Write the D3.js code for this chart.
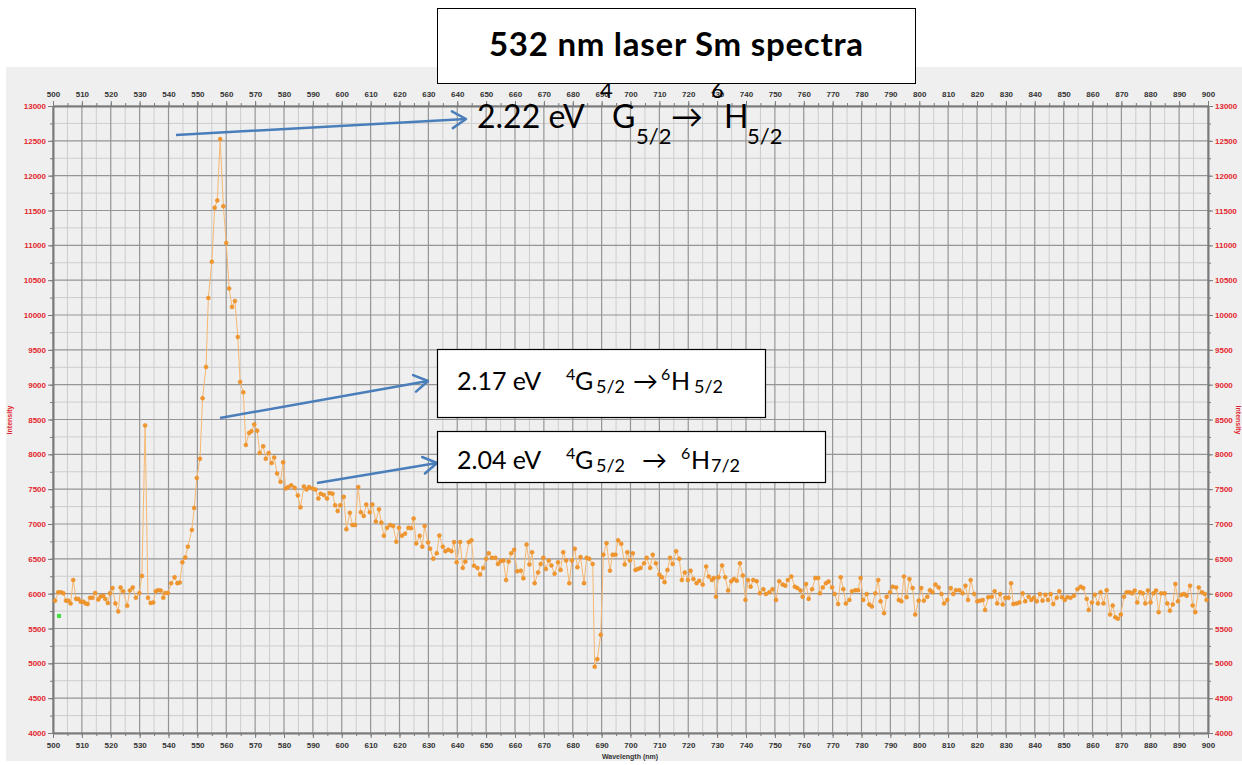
<!DOCTYPE html>
<html>
<head>
<meta charset="utf-8">
<script src="https://cdn.jsdelivr.net/npm/d3@7"></script>
<style>
  html, body { margin: 0; padding: 0; background: #ffffff; }
  svg { display: block; }
</style>
</head>
<body>
<svg id="chart" width="1242" height="765"></svg>
<script>
// Sm spectrum under 532 nm laser
let wavelength = [
  500.7,501.8,502.8,503.6,504.5,505.3,506.1,507.0,508.0,508.8,509.6,510.5,511.3,512.0,512.8,513.7,514.6,515.7,516.5,517.4,
  518.1,519.0,519.7,520.6,521.6,522.6,523.4,524.3,525.7,526.6,527.6,528.7,529.9,530.8,531.9,532.9,533.8,534.7,535.6,536.4,
  537.3,538.2,538.8,539.8,540.9,542.1,543.1,543.9,544.8,545.8,546.7,548.1,548.9,549.8,550.9,551.8,
  553.0,553.8,555.0,556.0,556.9,557.9,559.0,560.0,561.0,562.0,563.0,564.0,564.8,565.9,
  566.8,567.9,568.7,569.7,570.7,571.6,572.8,573.7,574.7,575.7,576.6,577.6,578.8,579.7,580.6,581.5,582.5,583.7,584.8,585.7,
  586.9,587.8,588.7,589.9,590.9,591.9,592.7,593.8,594.9,595.8,596.8,597.7,598.6,599.5,600.7,601.6,602.8,603.7,604.6,605.7,
  606.6,607.6,608.5,609.7,610.6,611.8,612.9,613.7,614.6,615.7,616.8,617.8,618.9,619.8,620.8,621.9,623.1,624.0,624.9,625.8,
  627.0,627.9,628.7,629.9,
  630.6,631.7,632.9,633.8,635.0,635.9,636.9,638.0,638.9,639.8,641.0,641.9,642.8,644.0,644.9,645.8,647.0,647.9,649.0,650.0,
  650.9,652.0,653.2,654.1,655.0,656.0,656.9,657.8,658.7,659.7,660.8,662.0,662.9,664.0,665.0,665.9,666.8,668.0,668.9,669.8,
  670.7,671.7,672.6,673.7,674.9,675.8,676.7,677.7,678.8,679.7,680.7,681.6,682.7,683.9,684.8,685.7,686.9,687.6,688.5,689.7,
  690.6,691.7,692.9,693.8,694.8,695.7,696.8,698.0,698.9,699.8,700.8,701.7,702.6,703.5,704.7,705.6,706.8,707.7,708.8,710.0,
  710.9,711.8,712.8,713.7,714.6,715.8,716.9,717.8,718.8,719.9,720.8,721.8,722.9,723.8,725.0,726.2,727.1,728.2,728.9,729.6,
  730.5,731.7,732.8,733.8,734.9,735.8,736.8,737.9,738.9,739.8,740.7,741.6,742.5,743.7,744.8,746.0,746.9,748.1,749.2,750.4,
  751.5,752.7,753.6,754.5,755.7,756.9,757.8,758.9,759.6,760.8,761.7,762.9,764.0,765.0,
  765.6,766.6,767.7,768.6,769.8,770.7,771.9,772.8,773.7,774.6,775.8,776.7,777.9,778.8,779.7,780.6,781.8,782.7,783.6,784.8,
  785.8,786.6,787.8,788.7,789.9,790.8,792.0,792.9,793.8,794.7,795.6,796.6,797.7,798.6,799.8,800.7,801.6,802.8,803.7,804.6,
  805.6,806.7,807.7,808.6,809.7,810.9,811.8,812.7,813.9,815.0,816.0,816.9,817.8,819.0,820.1,821.0,822.0,822.8,823.9,825.1,
  826.1,827.0,828.0,828.9,829.8,830.9,831.8,832.6,833.7,834.7,835.8,836.7,837.9,838.8,839.7,840.7,841.8,842.7,843.7,844.6,
  845.5,846.4,847.6,848.5,849.4,850.4,851.3,852.4,853.6,854.8,855.9,856.8,858.0,858.7,859.8,860.8,861.9,862.8,863.8,864.9,
  866.1,867.0,867.9,868.8,869.8,870.9,871.8,872.8,873.7,874.6,875.5,876.5,877.4,878.3,879.2,880.1,881.1,882.0,882.9,883.8,
  885.0,885.9,886.8,887.8,888.7,889.6,890.8,891.7,892.6,893.8,894.7,895.6,896.8,897.9,898.9,899.5
];

let intensity = [
  5900,6020,6020,6005,5900,5900,5860,6195,5925,5925,5885,5885,5860,5850,5940,5940,6010,5915,5960,5970,
  5925,5865,6005,6080,5860,5745,6090,6035,5825,6045,6090,5940,6010,6255,8415,5940,5865,5875,6035,6050,
  6045,5940,6010,6010,6150,6235,6150,6160,6450,6520,6675,6915,7230,7660,7935,8805,
  9255,10245,10765,11540,11645,12525,11560,11035,10380,10115,10200,9685,9040,8890,
  8135,8305,8330,8430,8340,8020,8115,7935,8020,7875,7955,7725,7605,7885,7510,7530,7555,7520,7410,7240,
  7540,7495,7530,7510,7495,7365,7435,7415,7365,7445,7435,7270,7185,7270,7390,6925,7160,6985,6985,7530,
  7170,7115,7280,7170,7280,7035,7210,7020,6830,6945,6985,6970,6745,6945,6830,6860,6945,6940,7080,6720,
  6830,6675,6970,6735,
  6645,6500,6580,6835,6675,6610,6630,6610,6740,6450,6740,6370,6460,6740,6765,6400,6370,6275,6370,6500,
  6580,6515,6515,6425,6465,6475,6195,6460,6580,6630,6320,6330,6220,6705,6420,6595,6150,6305,6425,6515,
  6355,6475,6405,6285,6450,6340,6595,6475,6150,6475,6645,6380,6525,6150,6515,6500,6425,4950,5060,5410,
  6560,6725,6330,6560,6560,6765,6715,6420,6595,6475,6580,6340,6355,6370,6435,6515,6370,6560,6435,6275,
  6235,6165,6340,6515,6425,6610,6500,6195,6305,6195,6330,6210,6150,6185,6130,6390,6245,6195,6225,5955,
  6235,6405,6235,6045,6180,6210,6185,6435,6260,5910,6195,6100,6195,6180,6005,6065,5995,6020,6065,5910,
  6180,6130,6115,6195,6245,6100,6080,6045,5955,6140,5925,6065,6225,6225,
  6005,6090,6150,6175,6090,5995,5850,6235,6065,5860,5910,6035,6050,6050,6225,5910,5995,5845,5815,6005,
  6195,5890,5720,5955,6020,6100,6090,5910,5890,6245,5950,6210,6080,5700,5900,6080,5900,5955,6050,6020,
  6130,6090,5995,5860,5910,6080,5995,6050,6050,6005,6115,5910,6195,5995,5890,5900,5910,5765,5950,5955,
  6035,5860,5995,5845,5940,5940,6150,5850,5860,5875,6005,5890,5955,5910,5940,5890,5995,5900,5985,5910,
  5995,5850,5940,6035,5950,5910,5950,5940,5970,6065,6100,6080,5925,5765,5875,5985,5860,6020,5860,6050,
  5700,5830,5660,5640,5700,5955,6020,6020,6005,6045,5875,6020,6005,5860,6045,5875,6005,6045,5735,6005,
  6005,5860,5755,5845,6140,5890,5985,5995,5970,6115,5830,5735,6090,6020,5995,5910
];

// stray green marker near the start
let markerPoint = [502.1, 5680];

let xDomain = [500, 900];
let yDomain = [4000, 13000];

let title = "532 nm laser Sm spectra";
let xTitle = "Wavelength (nm)";
let yTitle = "Intensity";

let svg = d3.select("#chart");

// grey instrument panel behind the plot
svg.append("rect")
    .attr("x", 6).attr("y", 67)
    .attr("width", 1236).attr("height", 694)
    .attr("fill", "#efefef");

let x = d3.scaleLinear().domain(xDomain).range([53, 1208]);
let y = d3.scaleLinear().domain(yDomain).range([733, 106]);

let xMinor = d3.range(xDomain[0], xDomain[1] + 1, 5);
let xMajor = d3.range(xDomain[0], xDomain[1] + 1, 10);
let yMinor = d3.range(yDomain[0], yDomain[1] + 1, 250);
let yMajor = d3.range(yDomain[0], yDomain[1] + 1, 500);

let grid = svg.append("g");

grid.selectAll(".vminor")
    .data(xMinor.filter(function (d) { return d % 10 !== 0; }))
    .enter().append("line")
    .attr("x1", function (d) { return x(d); })
    .attr("x2", function (d) { return x(d); })
    .attr("y1", y.range()[1]).attr("y2", y.range()[0])
    .attr("stroke", "#cdcdcd").attr("stroke-width", 1);

grid.selectAll(".hminor")
    .data(yMinor.filter(function (d) { return d % 500 !== 0; }))
    .enter().append("line")
    .attr("y1", function (d) { return y(d); })
    .attr("y2", function (d) { return y(d); })
    .attr("x1", x.range()[0]).attr("x2", x.range()[1])
    .attr("stroke", "#cdcdcd").attr("stroke-width", 1);

grid.selectAll(".vmajor")
    .data(xMajor)
    .enter().append("line")
    .attr("x1", function (d) { return x(d); })
    .attr("x2", function (d) { return x(d); })
    .attr("y1", y.range()[1]).attr("y2", y.range()[0])
    .attr("stroke", "#959595").attr("stroke-width", 1.2);

grid.selectAll(".hmajor")
    .data(yMajor)
    .enter().append("line")
    .attr("y1", function (d) { return y(d); })
    .attr("y2", function (d) { return y(d); })
    .attr("x1", x.range()[0]).attr("x2", x.range()[1])
    .attr("stroke", "#959595").attr("stroke-width", 1.2);

// axes with labels, plus minor tick marks
let styleAxis = function (g, color) {
    g.select(".domain").attr("stroke", "#7a7a7a").attr("stroke-width", 2);
    g.selectAll(".tick line").attr("stroke", "#7a7a7a");
    g.selectAll(".tick text")
        .attr("fill", color)
        .style("font-family", "'Liberation Sans', Arial, sans-serif")
        .style("font-size", "8px")
        .style("font-weight", "bold");
};

let makeMinor = function (axis, vals, transform) {
    svg.append("g").attr("transform", transform)
        .call(axis.tickValues(vals).tickSize(3).tickFormat(""))
        .call(function (g) {
            g.select(".domain").remove();
            g.selectAll(".tick line").attr("stroke", "#7a7a7a");
        });
};

makeMinor(d3.axisTop(x), xMinor, "translate(0," + y.range()[1] + ")");
makeMinor(d3.axisBottom(x), xMinor, "translate(0," + y.range()[0] + ")");
makeMinor(d3.axisLeft(y), yMinor, "translate(" + x.range()[0] + ",0)");
makeMinor(d3.axisRight(y), yMinor, "translate(" + x.range()[1] + ",0)");

let plain = d3.format("d");

svg.append("g")
    .attr("transform", "translate(0," + y.range()[1] + ")")
    .call(d3.axisTop(x).tickValues(xMajor).tickFormat(plain).tickSize(5).tickPadding(4).tickSizeOuter(0))
    .call(styleAxis, "#333333");

svg.append("g")
    .attr("transform", "translate(0," + y.range()[0] + ")")
    .call(d3.axisBottom(x).tickValues(xMajor).tickFormat(plain).tickSize(5).tickPadding(4).tickSizeOuter(0))
    .call(styleAxis, "#333333");

svg.append("g")
    .attr("transform", "translate(" + x.range()[0] + ",0)")
    .call(d3.axisLeft(y).tickValues(yMajor).tickFormat(plain).tickSize(5).tickPadding(2).tickSizeOuter(0))
    .call(styleAxis, "#e3262e");

svg.append("g")
    .attr("transform", "translate(" + x.range()[1] + ",0)")
    .call(d3.axisRight(y).tickValues(yMajor).tickFormat(plain).tickSize(5).tickPadding(2).tickSizeOuter(0))
    .call(styleAxis, "#e3262e");

// axis titles
svg.append("text")
    .attr("x", 630).attr("y", 759)
    .attr("text-anchor", "middle")
    .style("font-family", "'Liberation Sans', Arial, sans-serif")
    .style("font-size", "7px").style("font-weight", "bold")
    .attr("fill", "#333333")
    .text(xTitle);

svg.append("text")
    .attr("transform", "translate(12,420) rotate(-90)")
    .attr("text-anchor", "middle")
    .style("font-family", "'Liberation Sans', Arial, sans-serif")
    .style("font-size", "7px").style("font-weight", "bold")
    .attr("fill", "#e3262e")
    .text(yTitle);

svg.append("text")
    .attr("transform", "translate(1236,420) rotate(90)")
    .attr("text-anchor", "middle")
    .style("font-family", "'Liberation Sans', Arial, sans-serif")
    .style("font-size", "7px").style("font-weight", "bold")
    .attr("fill", "#e3262e")
    .text(yTitle);

// spectrum line and points
let data = wavelength.map(function (w, i) { return [w, intensity[i]]; });

let line = d3.line()
    .x(function (d) { return x(d[0]); })
    .y(function (d) { return y(d[1]); });

svg.append("path")
    .datum(data)
    .attr("d", line)
    .attr("fill", "none")
    .attr("stroke", "#f6b873")
    .attr("stroke-width", 1);

svg.append("g")
    .selectAll("circle")
    .data(data)
    .enter().append("circle")
    .attr("cx", function (d) { return x(d[0]); })
    .attr("cy", function (d) { return y(d[1]); })
    .attr("r", 2)
    .attr("fill", "#f0962e")
    .attr("stroke", "#e88a22")
    .attr("stroke-width", 0.5);

svg.append("rect")
    .attr("x", x(markerPoint[0]) - 2)
    .attr("y", y(markerPoint[1]) - 2)
    .attr("width", 4).attr("height", 4)
    .attr("fill", "#3fe03f");

// blue annotation arrows
let arrows = [
    [[176, 135], [466, 119]],
    [[220, 418], [428, 381]],
    [[317, 483], [437, 463]]
];

arrows.forEach(function (a) {
    let p0 = a[0], p1 = a[1];
    let ang = Math.atan2(p1[1] - p0[1], p1[0] - p0[0]);
    let len = 16, spread = 0.55;
    svg.append("line")
        .attr("x1", p0[0]).attr("y1", p0[1])
        .attr("x2", p1[0]).attr("y2", p1[1])
        .attr("stroke", "#4a7ebb").attr("stroke-width", 2.5);
    svg.append("path")
        .attr("d", "M" + (p1[0] - len * Math.cos(ang - spread)) + "," + (p1[1] - len * Math.sin(ang - spread)) +
            "L" + p1[0] + "," + p1[1] +
            "L" + (p1[0] - len * Math.cos(ang + spread)) + "," + (p1[1] - len * Math.sin(ang + spread)))
        .attr("fill", "none")
        .attr("stroke", "#4a7ebb").attr("stroke-width", 2.5)
        .attr("stroke-linecap", "round").attr("stroke-linejoin", "round");
});

let font = "Lato, 'Open Sans', sans-serif";

let addText = function (str, px, py, size, weight) {
    return svg.append("text")
        .attr("x", px).attr("y", py)
        .style("font-family", font)
        .style("font-size", size + "px")
        .style("font-weight", weight || "normal")
        .attr("fill", "#000000")
        .text(str);
};

// title box
svg.append("rect")
    .attr("x", 437.5).attr("y", 8.5)
    .attr("width", 478).attr("height", 75)
    .attr("fill", "#ffffff").attr("stroke", "#000000").attr("stroke-width", 1);

addText(title, 489, 56, 33, "bold")
    .attr("textLength", 374)
    .attr("lengthAdjust", "spacing");

// first annotation, loose text with misplaced super/subscripts
addText("2.22 eV", 477, 128, 32);
addText("4", 600, 98, 22);
addText("G", 612, 128, 32);
addText("5/2", 636, 144, 22);
addText("\u2192", 671, 128, 32);
addText("6", 711, 98, 22);
addText("H", 724, 128, 32);
addText("5/2", 747, 144, 22);

// boxed annotations
let boxes = [
    { x: 437.5, y: 349.5, w: 328, h: 68, base: 390, label: "2.17 eV", sub: "5/2", arrowX: 633, supX: 661, hX: 671, hSubX: 694 },
    { x: 437.5, y: 431.5, w: 388, h: 51, base: 469, label: "2.04 eV", sub: "7/2", arrowX: 642, supX: 681, hX: 691, hSubX: 711 }
];

boxes.forEach(function (b) {
    svg.append("rect")
        .attr("x", b.x).attr("y", b.y)
        .attr("width", b.w).attr("height", b.h)
        .attr("fill", "#ffffff").attr("stroke", "#000000").attr("stroke-width", 1.2);
    addText(b.label, 457, b.base, 25);
    addText("4", 566, b.base - 10, 16);
    addText("G", 575, b.base, 25);
    addText("5/2", 596, b.base + 3, 18);
    addText("\u2192", b.arrowX, b.base, 25);
    addText("6", b.supX, b.base - 10, 16);
    addText("H", b.hX, b.base, 25);
    addText(b.sub, b.hSubX, b.base + 3, 18);
});
</script>
</body>
</html>
